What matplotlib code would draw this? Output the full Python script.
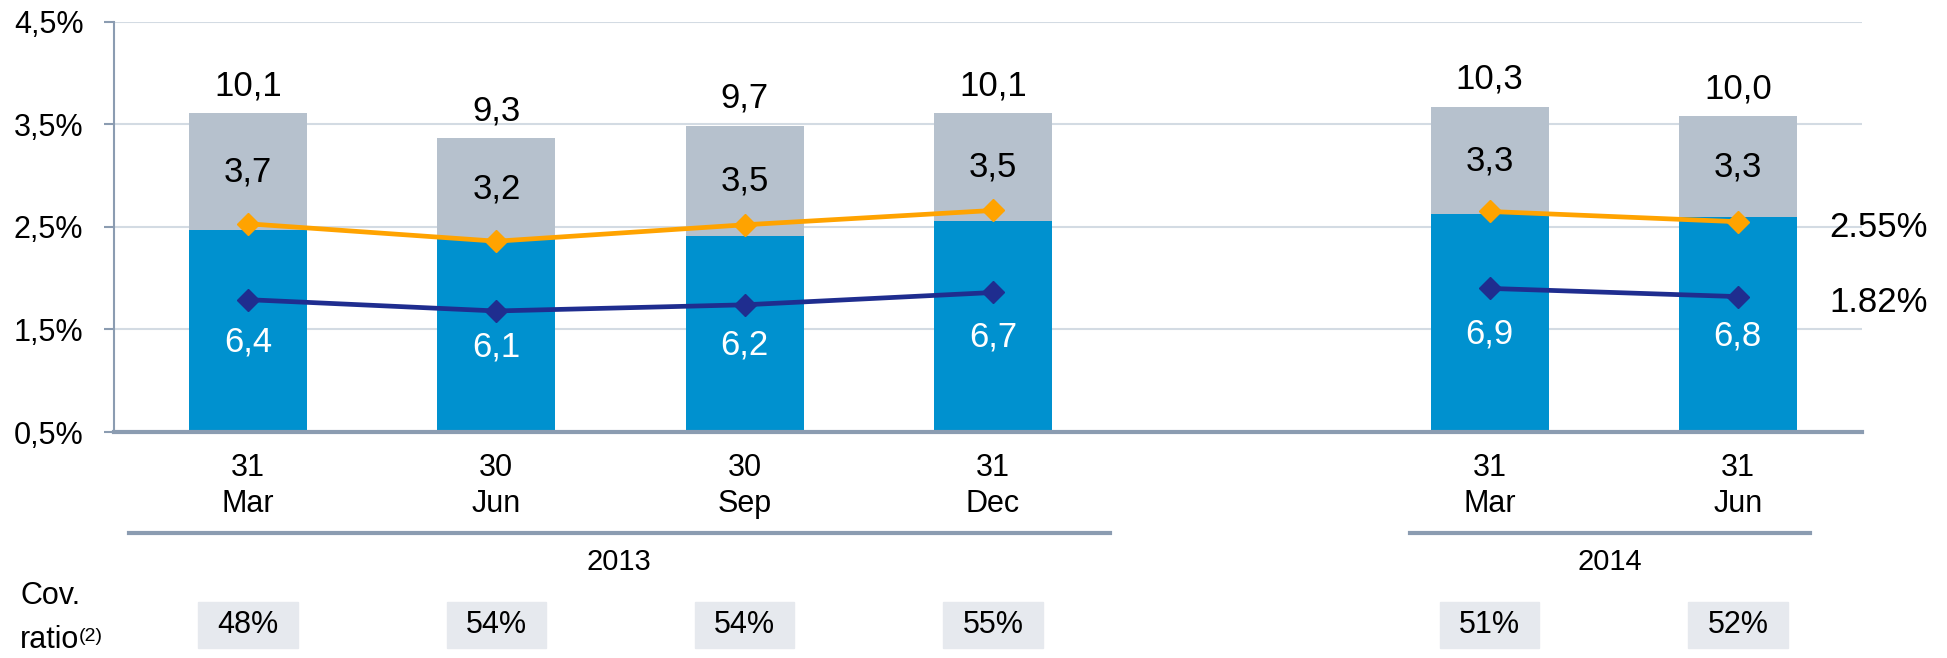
import matplotlib
matplotlib.use("Agg")
import matplotlib.pyplot as plt
from matplotlib.patches import Rectangle

plt.rcParams['font.family'] = ['Liberation Sans', 'DejaVu Sans']

# ---------------- data ----------------
days = ['31', '30', '30', '31', '31', '31']
months = ['Mar', 'Jun', 'Sep', 'Dec', 'Mar', 'Jun']
years = ['2013', '2013', '2013', '2013', '2014', '2014']
blue_vals = [6.4, 6.1, 6.2, 6.7, 6.9, 6.8]
gray_vals = [3.7, 3.2, 3.5, 3.5, 3.3, 3.3]
totals = [10.1, 9.3, 9.7, 10.1, 10.3, 10.0]
orange_line = [2.53, 2.36, 2.52, 2.66, 2.65, 2.55]
navy_line = [1.79, 1.68, 1.74, 1.86, 1.90, 1.82]
cov_ratio = ['48%', '54%', '54%', '55%', '51%', '52%']
yticks = [0.5, 1.5, 2.5, 3.5, 4.5]

BLUE = '#0091cf'
GRAY = '#b6c1cd'
ORANGE = '#ffa300'
NAVY = '#1f2d8f'
GRID = '#d3dbe3'
SPINE = '#8b9cb1'
BOX = '#e6e9ee'

# positions: leave an empty slot between years
pos = []
p = 0
for i, y in enumerate(years):
    if i > 0 and y != years[i - 1]:
        p += 1
    pos.append(p)
    p += 1

groups = {}
for i, y in enumerate(years):
    groups.setdefault(y, []).append(i)

fig = plt.figure(figsize=(19.47, 6.58), dpi=100)
ax = fig.add_axes([114/1947, 1-432/658, (1862-114)/1947, (432-21.7)/658])
axb = ax.twinx()
axl = ax.twinx()

for a in (ax, axl):
    a.set_ylim(0.5, 4.5)
axb.set_ylim(0, 13)
for a in (ax, axb, axl):
    a.set_xlim(-0.54, 6.5)

# grid + left axis
ax.set_yticks(yticks)
ax.set_yticklabels([f"{v:.1f}%".replace('.', ',') for v in yticks], fontsize=22)
ax.grid(axis='y', color=GRID, lw=1.5)
ax.tick_params(axis='y', length=7, color=SPINE, width=1.5, pad=15)
for s in ['top', 'right', 'bottom']:
    ax.spines[s].set_visible(False)
ax.spines['left'].set_color(SPINE)
ax.spines['left'].set_linewidth(1.5)
ax.set_xticks(pos)
ax.set_xticklabels([d + '\n' + m for d, m in zip(days, months)], fontsize=22,
                   linespacing=1.25)
ax.tick_params(axis='x', length=0, pad=15)

# bars
w = 0.475
axb.bar(pos, totals, width=w, color=GRAY)
axb.bar(pos, blue_vals, width=w, color=BLUE)
for x, b, g, t in zip(pos, blue_vals, gray_vals, totals):
    axb.annotate(f"{b:.1f}".replace('.', ','), (x, b / 2), xytext=(0, -8),
                 textcoords='offset points', ha='center', va='center',
                 color='white', fontsize=25)
    axb.text(x, (b + t) / 2, f"{g:.1f}".replace('.', ','), ha='center', va='center',
             color='black', fontsize=25)
    axb.annotate(f"{t:.1f}".replace('.', ','), (x, t), xytext=(0, 8),
                 textcoords='offset points', ha='center', va='bottom', fontsize=25)
axb.axis('off')

# lines, broken between the two years
for vals, col in ((orange_line, ORANGE), (navy_line, NAVY)):
    for idx in groups.values():
        axl.plot([pos[i] for i in idx], [vals[i] for i in idx], color=col,
                 lw=3.4, marker='D', ms=11)
    axl.annotate(f"{vals[-1]:.2f}%", (pos[-1], vals[-1]), xytext=(66, -4),
                 textcoords='offset points', ha='left', va='center', fontsize=25,
                 annotation_clip=False)
axl.set_yticks([])
for s in ['top', 'right', 'left']:
    axl.spines[s].set_visible(False)
axl.spines['bottom'].set_color(SPINE)
axl.spines['bottom'].set_linewidth(3)

# year groups under the axis
tr = ax.get_xaxis_transform()
pads = {'2013': (0.48, 0.47), '2014': (0.32, 0.29)}
for y, idx in groups.items():
    lo, hi = pads[y]
    x0, x1 = pos[idx[0]] - lo, pos[idx[-1]] + hi
    ax.plot([x0, x1], [-0.246, -0.246], transform=tr, color=SPINE, lw=3,
            clip_on=False)
    ax.text((x0 + x1) / 2, -0.317, y, transform=tr, ha='center', va='center',
            fontsize=21)

# coverage ratio boxes
bw, bh = 0.40, 0.112
for x, c in zip(pos, cov_ratio):
    ax.add_patch(Rectangle((x - bw / 2, -0.47 - bh / 2), bw, bh, transform=tr,
                           color=BOX, clip_on=False))
    ax.text(x, -0.47, c, transform=tr, ha='center', va='center', fontsize=22)

fig.text(20/1947, 1-596/658, 'Cov.', ha='left', va='center', fontsize=22)
rt = fig.text(20/1947, 1-640/658, 'ratio', ha='left', va='center', fontsize=22)
ax.annotate('(2)', xy=(1, 0.9), xycoords=rt, ha='left', va='top', fontsize=14,
            annotation_clip=False)

fig.savefig('out.png', dpi=100)
